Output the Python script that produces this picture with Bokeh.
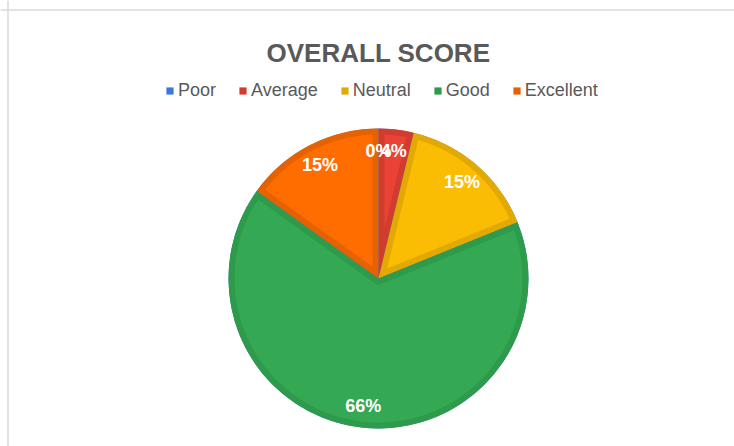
import math
from bokeh.plotting import figure
from bokeh.models import Range1d, ColumnDataSource, Legend, LegendItem, Label, Span
from bokeh.core.properties import value
from bokeh.embed import file_html
from bokeh.resources import INLINE

# ---- data ----
title_text = "OVERALL SCORE"
categories = ["Poor", "Average", "Neutral", "Good", "Excellent"]
counts = [0, 2, 8, 35, 8]
fill_colors = ["#4285F4", "#EA4335", "#FBBC04", "#34A853", "#FF6D01"]
edge_colors = ["#3B78DC", "#D13C2F", "#E2A904", "#2E9A4B", "#E66201"]

# ---- layout ----
W, H = 734, 446
CX, CY, R, INSET = 378, 168, 150, 6
LABEL_R = 128
FONT = "Liberation Sans"
TEXT_GRAY = "#595959"

total = sum(counts)
fracs = [c / total for c in counts]
starts, ends = [], []
cum = 0.0
for f in fracs:
    starts.append(math.pi / 2 - 2 * math.pi * cum)
    cum += f
    ends.append(math.pi / 2 - 2 * math.pi * cum)

p = figure(width=W, height=H, x_range=Range1d(0, W), y_range=Range1d(0, H),
           output_backend="svg", toolbar_location=None, min_border=0,
           x_axis_type=None, y_axis_type=None)
p.grid.visible = False
p.outline_line_color = None
p.background_fill_color = "white"
p.border_fill_color = "white"

# frame border (top and left visible in the crop)
p.add_layout(Span(location=H - 9.5, dimension="width", line_color="#D9D9D9", line_width=1.5))
p.add_layout(Span(location=7.5, dimension="height", line_color="#D9D9D9", line_width=1.5))

# dark outer wedges
wsrc = ColumnDataSource(dict(start=starts, end=ends, color=edge_colors, cat=categories))
wedges = p.wedge(x=CX, y=CY, radius=R, start_angle="start", end_angle="end",
                 direction="clock", fill_color="color", line_color=None, source=wsrc)

# lighter inner fills, inset from each slice's edges
xs, ys, cols = [], [], []
rho = R - INSET
da = math.asin(INSET / rho)
for s, e, c in zip(starts, ends, fill_colors):
    span = s - e
    if span / 2 <= da + 1e-6:
        continue
    m = (s + e) / 2
    dist = INSET / math.sin(span / 2)
    px = [CX + dist * math.cos(m)]
    py = [CY + dist * math.sin(m)]
    a0, a1 = s - da, e + da
    n = max(8, int(abs(a0 - a1) * 60))
    for k in range(n + 1):
        a = a0 + (a1 - a0) * k / n
        px.append(CX + rho * math.cos(a))
        py.append(CY + rho * math.sin(a))
    xs.append(px)
    ys.append(py)
    cols.append(c)
p.patches(xs="xs", ys="ys", fill_color="cols", line_color=None,
          source=ColumnDataSource(dict(xs=xs, ys=ys, cols=cols)))

# percentage labels
lx, ly, lt = [], [], []
for s, e, f in zip(starts, ends, fracs):
    m = (s + e) / 2
    lx.append(CX + LABEL_R * math.cos(m))
    ly.append(CY + LABEL_R * math.sin(m))
    lt.append(f"{round(f * 100)}%")
p.text(x="x", y="y", text="t", source=ColumnDataSource(dict(x=lx, y=ly, t=lt)),
       text_font=value(FONT), text_font_style="bold", text_font_size=value("18px"),
       text_color="white", text_align="center", text_baseline="middle")

# title
p.add_layout(Label(x=CX, y=H - 52, text=title_text, text_align="center",
                   text_baseline="alphabetic", text_font=FONT, text_font_size="26px",
                   text_font_style="bold", text_color=TEXT_GRAY))

# legend
items = [LegendItem(label=cat, renderers=[wedges], index=i) for i, cat in enumerate(categories)]
legend = Legend(items=items, location=(165, 345), orientation="horizontal",
                glyph_width=9, glyph_height=9, label_standoff=4, spacing=22,
                padding=0, margin=0, border_line_color=None, background_fill_alpha=0,
                label_text_font=FONT, label_text_font_size="18px",
                label_text_color=TEXT_GRAY, label_height=20)
p.add_layout(legend)

open("out.html", "w").write(file_html(p, INLINE))
